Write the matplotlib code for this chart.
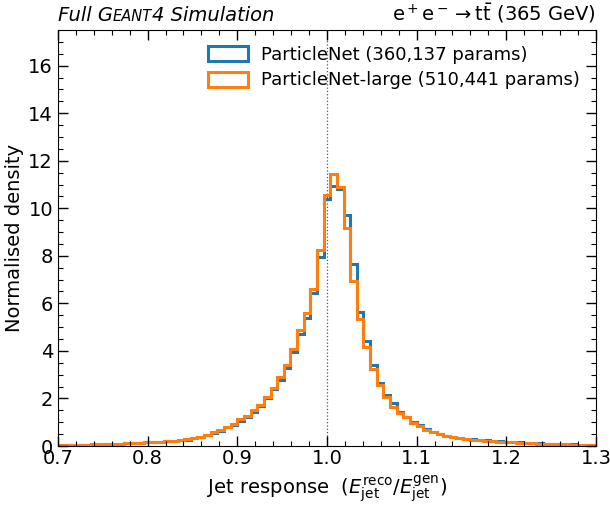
import numpy as np
import matplotlib
matplotlib.use("Agg")
import matplotlib.pyplot as plt
from matplotlib.patches import Patch
from matplotlib.offsetbox import TextArea, HPacker, AnchoredOffsetbox

# 81 bins between 0.7 and 1.3
bin_edges = np.linspace(0.7, 1.3, 82)

# normalised density, one value per bin
pnet = [
    0.04, 0.045, 0.05, 0.055, 0.06, 0.07, 0.075, 0.085, 0.095, 0.105,
    0.115, 0.13, 0.145, 0.16, 0.175, 0.19, 0.21, 0.23, 0.25, 0.27,
    0.32, 0.39, 0.46, 0.55, 0.65, 0.78, 0.88, 1.07, 1.22, 1.43,
    1.67, 2.00, 2.38, 2.77, 3.29, 3.94, 4.70, 5.40, 6.42, 7.95,
    10.38, 10.92, 10.82, 9.72, 7.65, 5.64, 4.40, 3.42, 2.65, 2.15,
    1.79, 1.44, 1.23, 1.02, 0.90, 0.71, 0.59, 0.50, 0.43, 0.38,
    0.34, 0.31, 0.28, 0.26, 0.24, 0.22, 0.20, 0.18, 0.16, 0.15,
    0.13, 0.12, 0.11, 0.10, 0.09, 0.08, 0.07, 0.065, 0.06, 0.055,
    0.05,
]
pnet_large = [
    0.04, 0.045, 0.05, 0.055, 0.06, 0.07, 0.075, 0.085, 0.095, 0.105,
    0.115, 0.13, 0.145, 0.165, 0.18, 0.19, 0.21, 0.23, 0.25, 0.28,
    0.33, 0.40, 0.48, 0.58, 0.68, 0.82, 0.93, 1.12, 1.28, 1.50,
    1.74, 2.07, 2.46, 2.91, 3.40, 4.07, 4.87, 5.61, 6.62, 8.24,
    10.55, 11.45, 10.90, 9.17, 6.95, 5.36, 4.15, 3.22, 2.58, 2.07,
    1.65, 1.40, 1.20, 0.98, 0.85, 0.68, 0.57, 0.49, 0.42, 0.37,
    0.33, 0.30, 0.27, 0.25, 0.23, 0.21, 0.19, 0.17, 0.155, 0.14,
    0.125, 0.115, 0.105, 0.095, 0.085, 0.075, 0.068, 0.062, 0.056, 0.05,
    0.045,
]
labels = ["ParticleNet (360,137 params)", "ParticleNet-large (510,441 params)"]
colors = ["#1f77b4", "#ff7f0e"]

plt.rcParams["font.family"] = "DejaVu Sans"
plt.rcParams["mathtext.fontset"] = "dejavusans"

fig = plt.figure(figsize=(6.1, 5.08), dpi=100)
ax = fig.add_axes([0.095, 0.122, 0.882, 0.819])

for vals, c in zip([pnet, pnet_large], colors):
    ax.stairs(vals, bin_edges, color=c, lw=2.2)

ax.axvline(1.0, color="#555555", ls=":", lw=0.9, zorder=0)

ax.set_xlim(0.7, 1.3)
ax.set_ylim(0, 17.5)
ax.set_xticks(np.arange(0.7, 1.31, 0.1))
ax.set_xticks(np.arange(0.7, 1.301, 0.02), minor=True)
ax.set_yticks(np.arange(0, 17, 2))
ax.set_yticks(np.arange(0, 17.5, 0.5), minor=True)
ax.xaxis.set_major_formatter(plt.FormatStrFormatter("%.1f"))
ax.tick_params(which="both", direction="in", top=True, right=True, labelsize=14)
ax.tick_params(which="major", length=7, width=1)
ax.tick_params(which="minor", length=3.5, width=0.8)
ax.tick_params(axis="x", pad=2)

ax.set_xlabel(r"Jet response  ($E_{\rm jet}^{\rm reco}/E_{\rm jet}^{\rm gen}$)", fontsize=14, labelpad=4)
ax.set_ylabel("Normalised density", fontsize=14, labelpad=3)

handles = [Patch(facecolor="none", edgecolor=c, lw=2.2) for c in colors]
ax.legend(handles, labels, loc="upper right", frameon=False, fontsize=13,
          handlelength=2.2, handleheight=0.9, handletextpad=0.7,
          borderaxespad=0.5, labelspacing=0.4)

# "Full GEANT4 Simulation" with small caps
parts = [
    TextArea("Full G", textprops=dict(fontsize=14, style="italic")),
    TextArea("EANT", textprops=dict(fontsize=10.5, style="italic")),
    TextArea("4 Simulation", textprops=dict(fontsize=14, style="italic")),
]
pack = HPacker(children=parts, align="baseline", pad=0, sep=0)
box = AnchoredOffsetbox(loc="lower left", child=pack, pad=0, frameon=False,
                        bbox_to_anchor=(0.0, 1.012), bbox_transform=ax.transAxes,
                        borderpad=0)
ax.add_artist(box)

ax.text(1.0, 1.012, r"e$^+$e$^-$$\rightarrow$t$\bar{\rm t}$ (365 GeV)",
        transform=ax.transAxes, ha="right", va="bottom", fontsize=14)

fig.savefig("out.png", dpi=100)
